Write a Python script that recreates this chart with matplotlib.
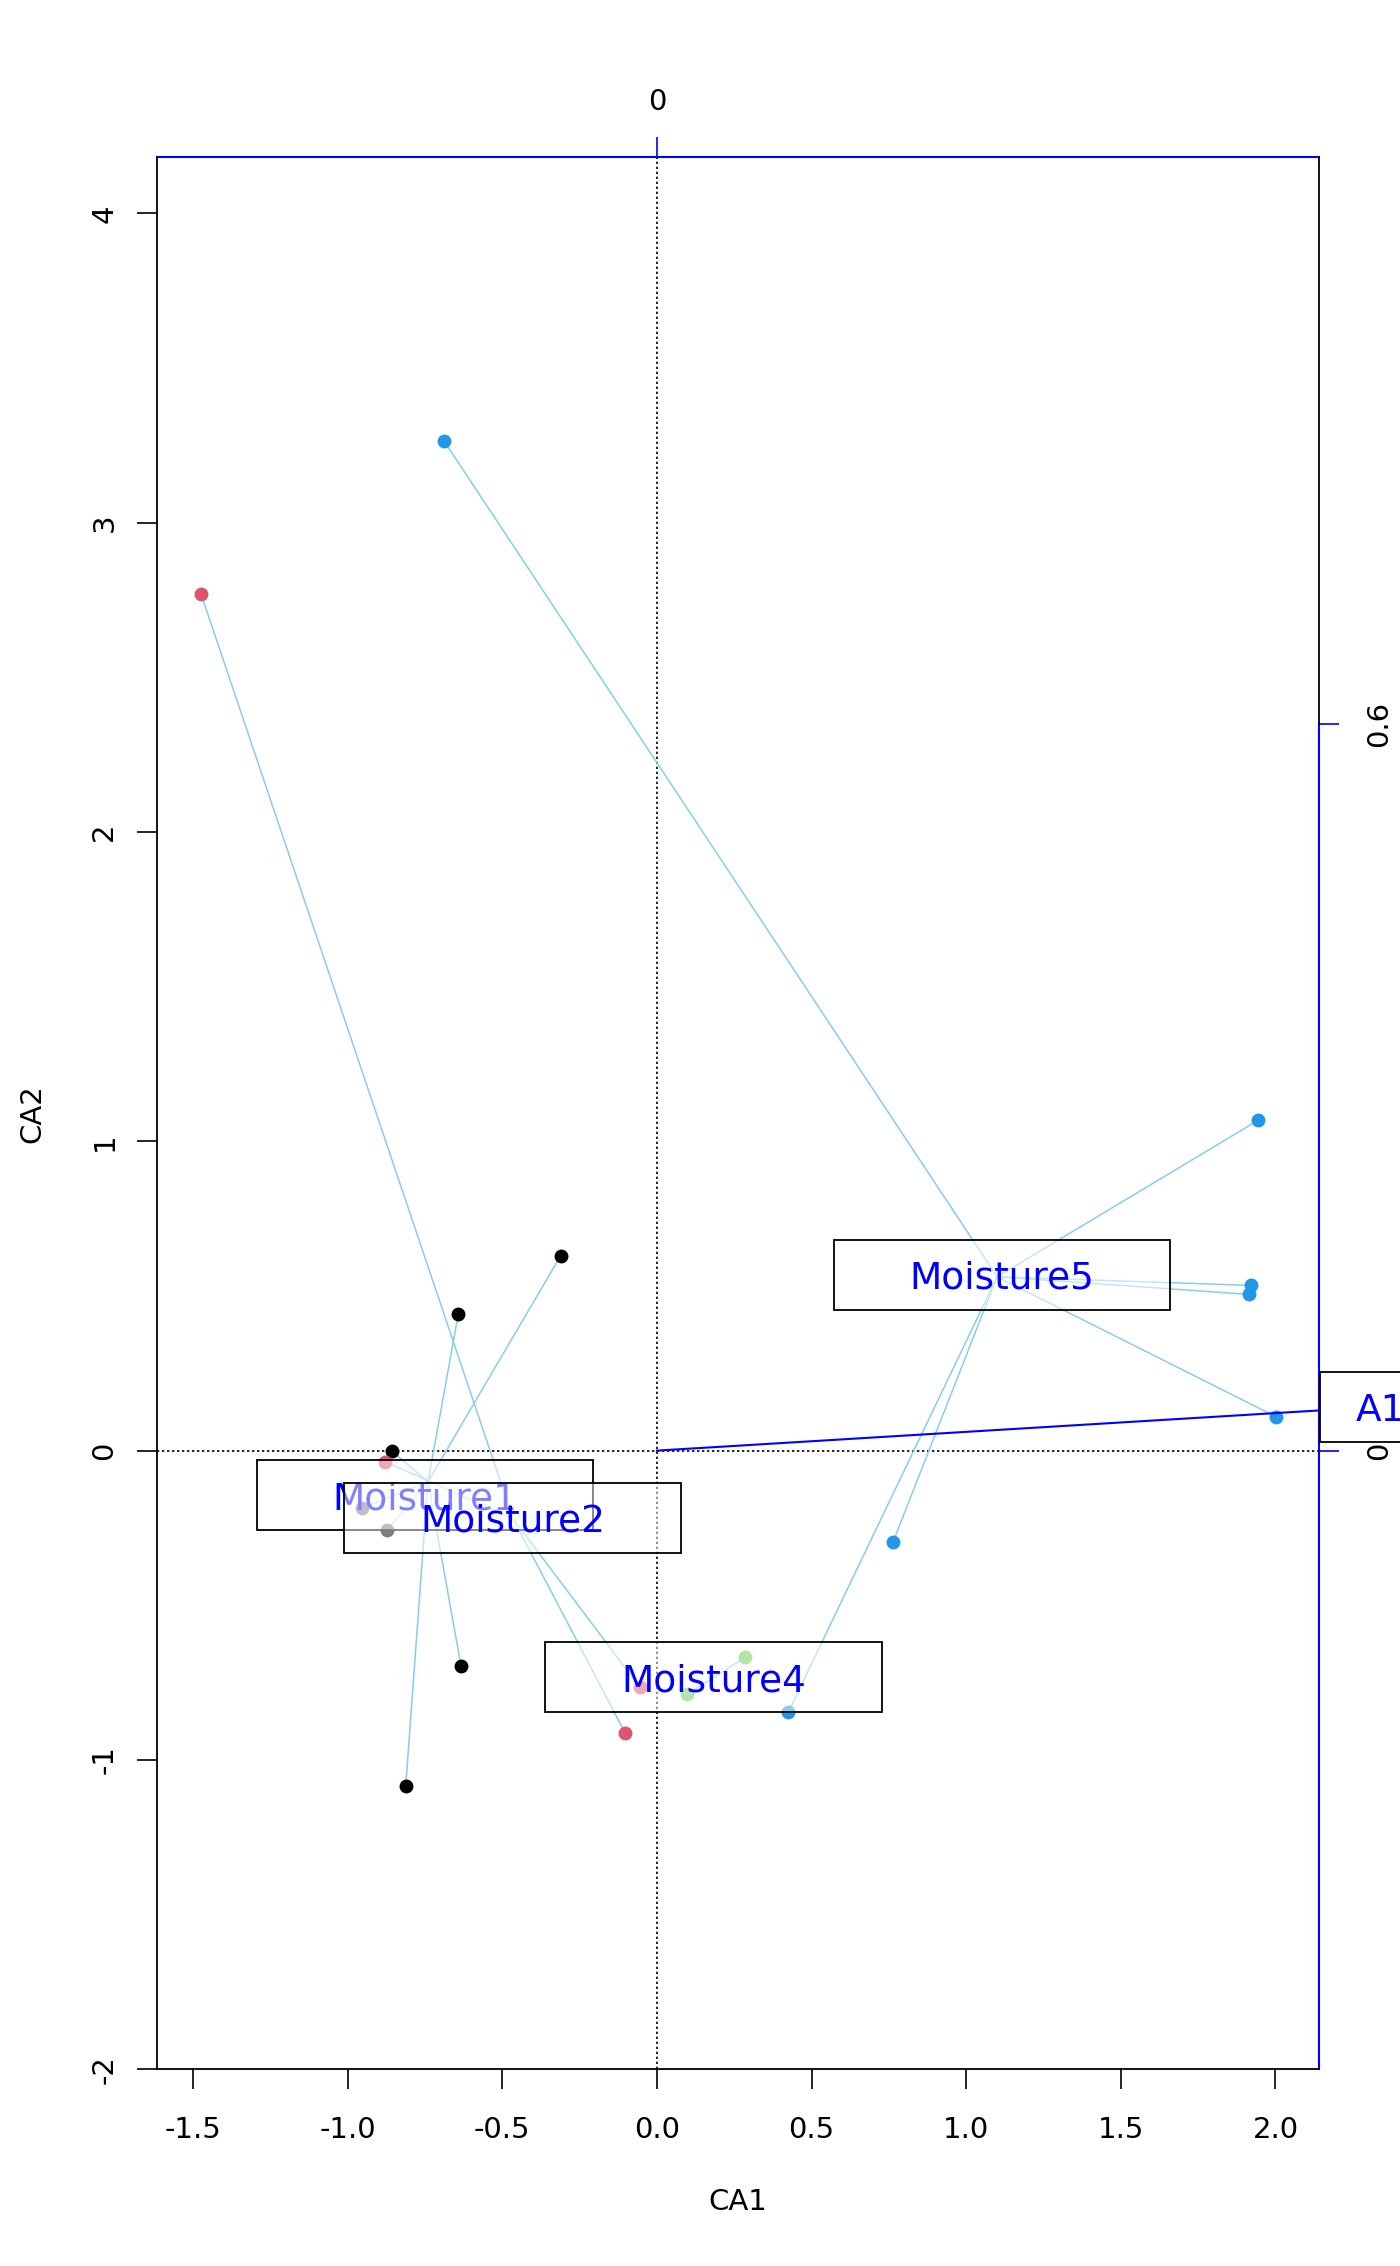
import matplotlib.pyplot as plt
from matplotlib.patches import Rectangle

# site scores on CA1 / CA2 and the Moisture class of each site
site_ca1 = [-0.689, -1.474, 1.944, 1.921, 1.915, 2.003, 0.763, 0.425,
            -0.311, -0.642, -0.856, -0.633, -0.812, -0.102, -0.878,
            -0.953, -0.872, -0.056, 0.097, 0.285]
site_ca2 = [3.265, 2.770, 1.068, 0.534, 0.505, 0.109, -0.297, -0.846,
            0.630, 0.442, -0.002, -0.697, -1.084, -0.914, -0.036,
            -0.186, -0.257, -0.764, -0.788, -0.668]
site_moist = [5, 2, 5, 5, 5, 5, 5, 5, 1, 1, 1, 1, 1, 2, 2, 1, 1, 2, 4, 4]

# groups, spider centres and label positions
moist_levels = [1, 2, 4, 5]
moist_names = ['Moisture1', 'Moisture2', 'Moisture4', 'Moisture5']
moist_colors = ['#000000', '#DF536B', '#61D04F', '#2297E6']
centre_ca1 = [-0.740, -0.465, 0.190, 1.100]
centre_ca2 = [-0.101, -0.220, -0.729, 0.562]
label_ca1 = [-0.749, -0.466, 0.183, 1.116]
label_ca2 = [-0.144, -0.217, -0.733, 0.568]

# fitted vector A1 and the scale of the arrow axes (top / right)
a1_ca1, a1_ca2 = 2.341, 0.142
arrow_scale = 3.913
arrow_ticks = [-0.6, 0.0, 0.6]

xticks = [-1.5, -1.0, -0.5, 0.0, 0.5, 1.0, 1.5, 2.0]
yticks = [-2, -1, 0, 1, 2, 3, 4]

box_h = 0.226
box_w_moist = 1.088
box_w_a1 = 0.394

fig = plt.figure(figsize=(14, 22.66), dpi=100)
ax = fig.add_axes([0.1124, 0.0868, 0.8298, 0.8438])
ax.set_xlim(-1.615, 2.141)
ax.set_ylim(-2.0, 4.181)
x0, x1 = ax.get_xlim()
y0, y1 = ax.get_ylim()

# dotted zero lines
ax.axhline(0, color='black', lw=1.2, ls=(0, (1.4, 1.6)), zorder=1)
ax.axvline(0, color='black', lw=1.2, ls=(0, (1.4, 1.6)), zorder=1)

# spider lines then points
for x, y, m in zip(site_ca1, site_ca2, site_moist):
    g = moist_levels.index(m)
    ax.plot([centre_ca1[g], x], [centre_ca2[g], y], color='#87CEEB', lw=1.1, zorder=2)
for x, y, m in zip(site_ca1, site_ca2, site_moist):
    g = moist_levels.index(m)
    ax.plot(x, y, 'o', color=moist_colors[g], ms=10, mew=0, zorder=3)

# A1 arrow (clipped at the frame)
ax.plot([0, a1_ca1], [0, a1_ca2], color='blue', lw=1.5, zorder=4)

# group labels with half transparent boxes
z = 5
for name, lx, ly in zip(moist_names, label_ca1, label_ca2):
    ax.add_patch(Rectangle((lx - box_w_moist / 2, ly - box_h / 2), box_w_moist, box_h,
                           facecolor=(1, 1, 1, 0.5), edgecolor='black', lw=1.3, zorder=z))
    ax.text(lx, ly, name, color='blue', fontsize=27, ha='center',
            va='center_baseline', zorder=z + 1)
    z += 2

ax.add_patch(Rectangle((a1_ca1 - box_w_a1 / 2, a1_ca2 - box_h / 2), box_w_a1, box_h,
                       facecolor=(1, 1, 1, 0.5), edgecolor='black', lw=1.3,
                       zorder=z, clip_on=False))
ax.text(a1_ca1, a1_ca2, 'A1', color='blue', fontsize=27, ha='center',
        va='center_baseline', zorder=z + 1, clip_on=False)

# main axes
ax.spines['top'].set_visible(False)
for s in ['left', 'bottom', 'right']:
    ax.spines[s].set_linewidth(1.3)
# black frame only above the last arrow tick, blue axis below it
ax.spines['right'].set_bounds(max(arrow_ticks) * arrow_scale, y1)
ax.set_xticks(xticks)
ax.set_xticklabels([f'{v:.1f}' for v in xticks])
ax.set_yticks(yticks)
ax.set_yticklabels([str(v) for v in yticks], rotation=90, va='center')
ax.tick_params(direction='out', length=14.4, width=1.2, labelsize=21)
ax.tick_params(axis='x', pad=19)
ax.tick_params(axis='y', pad=13.7)
ax.set_xlabel('CA1', fontsize=21, labelpad=32)
ax.set_ylabel('CA2', fontsize=21, labelpad=32)

# arrow axes in blue
to_arrow = (lambda v: v / arrow_scale, lambda v: v * arrow_scale)
top_ticks = [v for v in arrow_ticks if x0 <= v * arrow_scale <= x1]
right_ticks = [v for v in arrow_ticks if y0 <= v * arrow_scale <= y1]

top = ax.secondary_xaxis('top', functions=to_arrow)
top.set_xticks(top_ticks)
top.set_xticklabels([f'{v:g}' for v in top_ticks])
top.tick_params(direction='out', length=14.4, width=1.2, color='blue',
                labelsize=21, pad=15)
top.spines['top'].set_color('blue')
top.spines['top'].set_linewidth(1.5)

right = ax.secondary_yaxis('right', functions=to_arrow)
right.set_yticks(right_ticks)
right.set_yticklabels([f'{v:g}' for v in right_ticks], rotation=90, va='center')
right.tick_params(direction='out', length=14.4, width=1.2, color='blue',
                  labelsize=21, pad=18.5)
right.spines['right'].set_color('blue')
right.spines['right'].set_linewidth(1.5)
right.spines['right'].set_bounds(y0 / arrow_scale, max(arrow_ticks))

fig.savefig('out.png', dpi=100)
